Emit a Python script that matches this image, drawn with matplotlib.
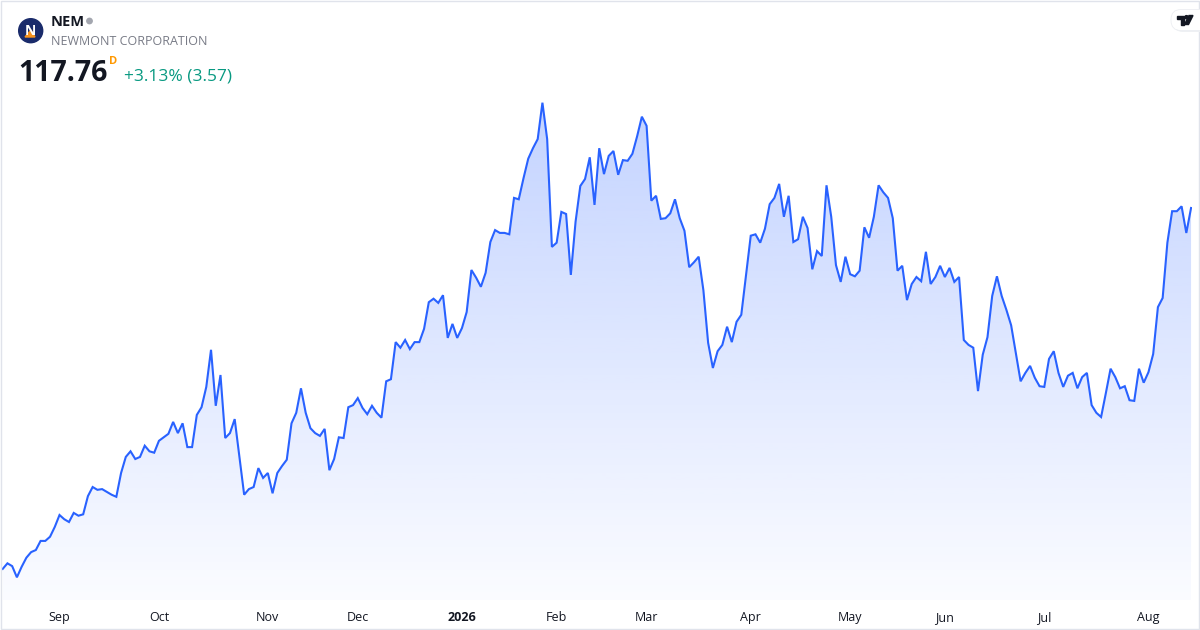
import matplotlib
matplotlib.use("Agg")
import matplotlib.pyplot as plt
import numpy as np
from matplotlib.patches import Circle, Polygon, FancyBboxPatch, Rectangle

plt.rcParams['font.family'] = ['Open Sans', 'DejaVu Sans']

# daily closes, NEM
closes = [
    66.2, 67.0, 66.6, 65.0, 66.5, 67.8, 68.6, 68.9, 70.2, 70.2,
    70.8, 72.2, 73.9, 73.3, 72.9, 74.2, 73.8, 74.0, 76.6, 77.9,
    77.5, 77.6, 77.2, 76.8, 76.5, 79.9, 82.2, 83.0, 81.9, 82.2,
    83.8, 83.0, 82.8, 84.5, 85.0, 85.5, 87.2, 85.6, 87.0, 83.6,
    83.6, 88.2, 89.3, 92.2, 97.5, 89.5, 93.9, 84.9, 85.6, 87.6,
    82.2, 76.8, 77.6, 77.9, 80.6, 79.2, 79.9, 77.0, 79.9, 80.9,
    81.8, 87.0, 88.5, 92.0, 88.5, 86.3, 85.6, 85.2, 86.2, 80.3,
    81.9, 85.0, 84.9, 89.3, 89.6, 90.6, 89.2, 88.3, 89.5, 88.5,
    87.8, 93.0, 93.3, 98.6, 97.8, 98.9, 97.6, 98.6, 98.6, 100.5,
    104.3, 104.8, 104.2, 105.3, 99.2, 101.2, 99.2, 100.6, 102.9, 108.9,
    107.8, 106.5, 108.5, 112.9, 114.6, 114.2, 114.2, 114.0, 119.2, 119.0,
    122.0, 124.8, 126.3, 127.6, 132.8, 127.6, 112.2, 112.8, 117.2, 116.9,
    108.2, 115.8, 120.9, 121.9, 125.0, 118.2, 126.3, 122.6, 125.2, 125.9,
    122.5, 124.6, 124.5, 125.5, 128.0, 130.8, 129.5, 118.8, 119.5, 116.2,
    116.3, 117.0, 119.0, 116.3, 114.5, 109.3, 110.0, 110.8, 106.0, 98.5,
    94.9, 97.3, 98.2, 100.8, 98.6, 101.5, 102.5, 108.2, 113.8, 114.0,
    112.8, 114.8, 118.3, 119.2, 121.2, 116.5, 119.5, 112.9, 113.3, 116.5,
    114.9, 109.0, 111.6, 110.9, 121.0, 116.5, 109.6, 107.2, 110.8, 108.3,
    108.0, 108.8, 115.0, 113.5, 116.5, 121.0, 120.0, 119.2, 116.3, 108.8,
    109.5, 104.6, 106.9, 107.9, 107.3, 111.5, 106.9, 107.9, 109.5, 107.9,
    109.2, 107.2, 107.9, 98.9, 98.2, 97.8, 91.6, 96.8, 99.3, 105.2,
    108.0, 105.2, 103.2, 101.0, 97.0, 93.0, 94.2, 95.2, 93.5, 92.3,
    92.2, 96.2, 97.3, 94.2, 92.2, 93.8, 94.2, 92.0, 93.6, 94.2,
    89.6, 88.5, 87.9, 91.3, 94.8, 93.6, 92.0, 92.3, 90.3, 90.2,
    94.8, 92.8, 94.3, 96.9, 103.6, 104.9, 112.8, 117.3, 117.3, 118.0,
    114.19, 117.76,
]

# bar index where each month label sits
month_pos = [12, 33, 56, 75, 97, 117, 136, 158, 179, 199, 220, 242]
month_labels = ['Sep', 'Oct', 'Nov', 'Dec', '2026', 'Feb', 'Mar',
                'Apr', 'May', 'Jun', 'Jul', 'Aug']

symbol = 'NEM'
company = 'NEWMONT CORPORATION'
last_price = '117.76'
change_text = '+3.13% (3.57)'

LINE = '#2962FF'
TEXT = '#131722'

W, H = 1200, 630
fig = plt.figure(figsize=(W / 100, H / 100), dpi=100)
fig.patch.set_facecolor('white')

# price pane: spans pixel x 0..1192, y 0..600
ax = fig.add_axes([0, 30 / H, 1192 / W, 600 / H])
x = np.arange(len(closes))
y = np.array(closes)
ymin, ymax = 61.76, 147.47

# gradient area under the line
poly = ax.fill_between(x, y, ymin, color='none', lw=0)
top = y.max()
alpha = np.linspace(0.02, 0.28, 256).reshape(-1, 1)
rgba = np.zeros((256, 1, 4))
rgba[..., 0] = 41 / 255
rgba[..., 1] = 98 / 255
rgba[..., 2] = 1.0
rgba[..., 3] = alpha
im = ax.imshow(rgba, extent=[x[0], x[-1], ymin, top], origin='lower',
               aspect='auto', interpolation='bilinear', zorder=1)
im.set_clip_path(poly.get_paths()[0], transform=ax.transData)
ax.set_xlim(-0.57, len(closes) - 1 + 0.2)
ax.set_ylim(ymin, ymax)

ax.plot(x, y, color=LINE, lw=1.5, zorder=3, solid_joinstyle='miter')

for s in ax.spines.values():
    s.set_visible(False)
ax.set_yticks([])
ax.set_xticks(month_pos)
ax.set_xticklabels(month_labels, fontsize=9, color=TEXT)
ax.tick_params(axis='x', length=0, pad=8)
for lab in ax.get_xticklabels():
    if lab.get_text() == '2026':
        lab.set_fontweight('bold')
ax.set_facecolor('none')

# overlay in pixel coordinates for the header and frame
ov = fig.add_axes([0, 0, 1, 1], zorder=5)
ov.set_xlim(0, W)
ov.set_ylim(H, 0)
ov.axis('off')
ov.patch.set_alpha(0)

ov.add_patch(Rectangle((0.5, 0.5), W - 1.5, H - 1.5, fill=False,
                       ec='#e0e3eb', lw=1))

# logo
ov.add_patch(Circle((30.7, 30.7), 12, color='#1a2b6b'))
ov.text(30.5, 31, 'N', color='white', fontsize=10, fontweight='bold',
        ha='center', va='center')
ov.add_patch(Polygon([[25, 37], [31, 30], [35, 37]], closed=True,
                     color='#f7931e'))

ov.text(51, 26.5, symbol, fontsize=10.5, fontweight='bold', color=TEXT,
        va='baseline')
ov.add_patch(Circle((89.5, 21), 2.7, color='#a3a6af'))
ov.text(51, 45, company, fontsize=9, color='#787b86', va='baseline')

ov.text(18, 81, last_price, fontsize=20.5, fontweight='bold', color=TEXT,
        va='baseline')
ov.text(109, 64.5, 'D', fontsize=8, fontweight='bold', color='#ff9800',
        va='baseline')
ov.text(124, 80.5, change_text, fontsize=12.5, color='#089981',
        va='baseline')

# TradingView badge
ov.add_patch(FancyBboxPatch((1173, 11), 40, 21,
                            boxstyle='round,pad=0,rounding_size=10',
                            fc='#eef0f3', ec='none'))
ov.add_patch(FancyBboxPatch((1171, 9.5), 40, 21,
                            boxstyle='round,pad=0,rounding_size=10',
                            fc='white', ec='#eceef2', lw=0.6))
ov.add_patch(Polygon([[1176.5, 15.5], [1184, 15.5], [1184, 24.5],
                      [1180.5, 24.5], [1180.5, 18.8], [1176.5, 18.8]],
                     closed=True, color=TEXT))
ov.add_patch(Circle((1186.5, 17.2), 1.6, color=TEXT))
ov.add_patch(Polygon([[1189, 15.5], [1193, 15.5], [1188.5, 24.5],
                      [1184.5, 24.5]], closed=True, color=TEXT))

fig.savefig('out.png', dpi=100, facecolor='white')
